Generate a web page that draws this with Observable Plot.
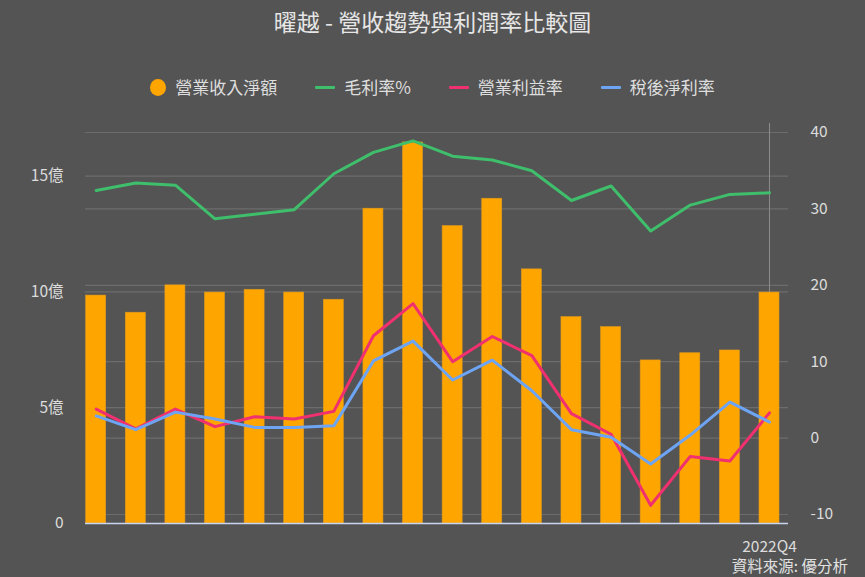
<!DOCTYPE html>
<html>
<head>
<meta charset="utf-8">
<script src="https://cdn.jsdelivr.net/npm/d3@7"></script>
<script src="https://cdn.jsdelivr.net/npm/@observablehq/plot@0.6"></script>
<style>
  html, body { margin: 0; padding: 0; background: #545454; }
  #wrap { position: relative; width: 865px; height: 577px; overflow: hidden;
          font-family: "Noto Sans CJK TC", "Noto Sans", sans-serif; color: #dedede; }
  #title { position: absolute; top: 5px; left: 0; width: 100%; text-align: center;
           font-size: 23px; line-height: 32px; color: #e6e6e6; }
  #legend { position: absolute; top: 75px; left: 0; width: 865px; display: flex;
            justify-content: center; align-items: center; font-size: 17px; line-height: 24px; gap: 38px; }
  .item { display: flex; align-items: center; gap: 9px; }
  .dot { width: 16px; height: 17px; border-radius: 50%; }
  .seg { width: 20px; height: 3px; border-radius: 1px; }
  #chart { position: absolute; top: 110px; left: 0; }
  #caption { position: absolute; top: 555px; right: 17px; font-size: 15.5px; line-height: 20px; color: #e2e2e2; }
</style>
</head>
<body>
<div id="wrap">
  <div id="title"></div>
  <div id="legend"></div>
  <div id="chart"></div>
  <div id="caption"></div>
</div>
<script>
// ---- data ----
const titleText = "曜越 - 營收趨勢與利潤率比較圖";
const captionText = "資料來源: 優分析";
const quarters = ["2018Q3","2018Q4","2019Q1","2019Q2","2019Q3","2019Q4","2020Q1","2020Q2","2020Q3",
                  "2020Q4","2021Q1","2021Q2","2021Q3","2021Q4","2022Q1","2022Q2","2022Q3","2022Q4"];
// 營業收入淨額 (億)
const revenue = [9.84, 9.10, 10.28, 9.97, 10.09, 9.97, 9.66, 13.59, 16.45, 12.84, 14.02, 10.97, 8.91, 8.48, 7.04, 7.35, 7.47, 9.97];
// 毛利率 %
const grossMargin = [32.4, 33.4, 33.1, 28.7, 29.3, 29.9, 34.6, 37.4, 38.9, 36.9, 36.4, 35.0, 31.1, 33.0, 27.1, 30.5, 31.9, 32.1];
// 營業利益率 %
const opMargin = [3.8, 1.2, 3.8, 1.5, 2.8, 2.5, 3.5, 13.4, 17.6, 10.0, 13.3, 10.8, 3.2, 0.5, -8.8, -2.4, -3.0, 3.3];
// 稅後淨利率 %
const netMargin = [2.9, 1.1, 3.4, 2.5, 1.4, 1.4, 1.6, 10.1, 12.7, 7.6, 10.2, 6.2, 1.1, 0.1, -3.4, 0.4, 4.7, 2.1];

const seriesNames = ["營業收入淨額", "毛利率%", "營業利益率", "稅後淨利率"];
const colors = ["#FFA500", "#3fbe6b", "#f0306f", "#6ea4f4"];
const leftTicks = [0, 5, 10, 15];
const rightTicks = [-10, 0, 10, 20, 30, 40];
const shownXTicks = ["2022Q4"];

// scales (left: 億, right: %)
const leftDomain = [0, 16.88];
const rightDomain = [-11.18, 40];
const toLeft = p => leftDomain[0] + (p - rightDomain[0]) / (rightDomain[1] - rightDomain[0]) * (leftDomain[1] - leftDomain[0]);

const rows = quarters.map((q, i) => ({q, i, rev: revenue[i], gm: grossMargin[i], om: opMargin[i], nm: netMargin[i]}));

// ---- title / legend / caption ----
document.getElementById("title").textContent = titleText;
document.getElementById("caption").textContent = captionText;
const legend = document.getElementById("legend");
seriesNames.forEach((name, k) => {
  const it = document.createElement("div");
  it.className = "item";
  const sw = document.createElement("div");
  sw.className = k === 0 ? "dot" : "seg";
  sw.style.background = colors[k];
  const tx = document.createElement("span");
  tx.textContent = name;
  it.appendChild(sw); it.appendChild(tx);
  legend.appendChild(it);
});

// ---- chart ----
const half = 0.2525;
const chart = Plot.plot({
  width: 865,
  height: 450,
  marginTop: 22,
  marginBottom: 37,
  marginLeft: 85,
  marginRight: 77,
  style: {background: "transparent", color: "#dcdcdc", fontFamily: "'Noto Sans CJK TC', sans-serif", fontSize: "15.5px"},
  x: {type: "linear", domain: [-0.27, 17.48], axis: null, label: null},
  y: {domain: leftDomain, axis: null, label: null},
  marks: [
    Plot.gridY(leftTicks.filter(d => d > 0), {stroke: "#6c6c6c", strokeOpacity: 1, strokeWidth: 1.2}),
    Plot.gridY(rightTicks, {y: d => toLeft(d), stroke: "#6c6c6c", strokeOpacity: 1, strokeWidth: 1.2}),
    Plot.ruleX(rows.filter(d => shownXTicks.includes(d.q)), {x: "i", stroke: "#8c8c8c", strokeWidth: 1, insetTop: -9}),
    Plot.rectY(rows, {x1: d => d.i - half, x2: d => d.i + half, y: "rev", fill: colors[0], stroke: "#e09a1a", strokeWidth: 0.6}),
    Plot.ruleY([0], {stroke: "#c9d4ee", strokeWidth: 1.6}),
    Plot.line(rows, {x: "i", y: d => toLeft(d.gm), stroke: colors[1], strokeWidth: 3}),
    Plot.line(rows, {x: "i", y: d => toLeft(d.om), stroke: colors[2], strokeWidth: 3}),
    Plot.line(rows, {x: "i", y: d => toLeft(d.nm), stroke: colors[3], strokeWidth: 3}),
    Plot.axisY(leftTicks, {anchor: "left", label: null, tickSize: 0, tickPadding: 22, tickFormat: d => d === 0 ? "0" : d + "億", fill: "#dcdcdc"}),
    Plot.axisY(rightTicks, {anchor: "right", label: null, y: d => toLeft(d), tickSize: 0, tickPadding: 22, tickFormat: d => String(d), fill: "#dcdcdc"}),
    Plot.axisX(rows.filter(d => shownXTicks.includes(d.q)).map(d => d.i), {anchor: "bottom", label: null, tickSize: 0, tickPadding: 17, tickFormat: i => quarters[i], fill: "#dcdcdc"})
  ]
});
document.getElementById("chart").appendChild(chart);
</script>
</body>
</html>
